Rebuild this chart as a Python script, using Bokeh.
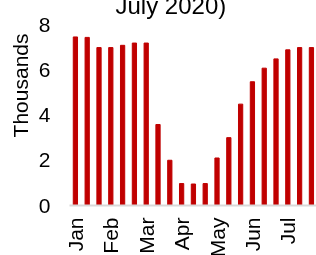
import math
from bokeh.plotting import figure
from bokeh.models import Range1d, FixedTicker, Title
from bokeh.embed import file_html
from bokeh.resources import INLINE

# Weekly values (thousands), Jan - Jul 2020
values = [7.45, 7.43, 6.98, 6.98, 7.08, 7.18, 7.18, 3.58, 2.0, 0.97, 0.95,
          0.97, 2.1, 3.0, 4.48, 5.47, 6.07, 6.48, 6.88, 6.98, 6.98]
weeks = list(range(len(values)))
month_labels = ["Jan", "Feb", "Mar", "Apr", "May", "Jun", "Jul"]
month_ticks = [0, 3, 6, 9, 12, 15, 18]
y_ticks = [0, 2, 4, 6, 8]
title_text = "July 2020)"
y_title = "Thousands"

FONT = "Liberation Sans"

p = figure(width=316, height=277, output_backend="svg", toolbar_location=None,
           x_range=Range1d(-0.5, 20.43), y_range=Range1d(0, 8),
           min_border_left=69, min_border_right=0, min_border_top=40,
           min_border_bottom=45)
p.styles = {"position": "fixed", "top": "-17px", "left": "0px"}
p.outline_line_color = None
p.background_fill_color = "white"
p.border_fill_color = "white"
p.xgrid.grid_line_color = None
p.ygrid.grid_line_color = None

p.title.text = title_text
p.title.text_font = FONT
p.title.text_font_size = "24px"
p.title.text_font_style = "normal"
p.title.text_color = "black"
p.title.align = "left"
p.title.offset = 46
p.title.standoff = 12

p.vbar(x=weeks, top=values, width=0.36, color="#C00000")

xa = p.xaxis[0]
ya = p.yaxis[0]
for ax in (xa, ya):
    ax.major_tick_line_color = None
    ax.minor_tick_line_color = None
    ax.major_tick_out = 0
    ax.major_tick_in = 0
    ax.minor_tick_out = 0
    ax.minor_tick_in = 0

# y axis (tick labels)
ya.ticker = FixedTicker(ticks=y_ticks)
ya.axis_line_color = None
ya.major_label_text_font = FONT
ya.major_label_text_font_size = "21px"
ya.major_label_text_color = "black"
ya.major_label_standoff = 19

# y axis title (display-units label near the top of the axis)
p.add_layout(Title(text=y_title, align="right", offset=9, standoff=7,
                   text_font=FONT, text_font_size="21px",
                   text_font_style="normal", text_color="black"), "left")

# x axis
xa.ticker = FixedTicker(ticks=month_ticks)
xa.major_label_overrides = {t: m for t, m in zip(month_ticks, month_labels)}
xa.major_label_orientation = math.pi / 2
xa.axis_line_color = "#D9D9D9"
xa.axis_line_width = 2
xa.major_label_text_font = FONT
xa.major_label_text_font_size = "21px"
xa.major_label_text_color = "black"
xa.major_label_standoff = 12

open("out.html", "w").write(file_html(p, INLINE))
